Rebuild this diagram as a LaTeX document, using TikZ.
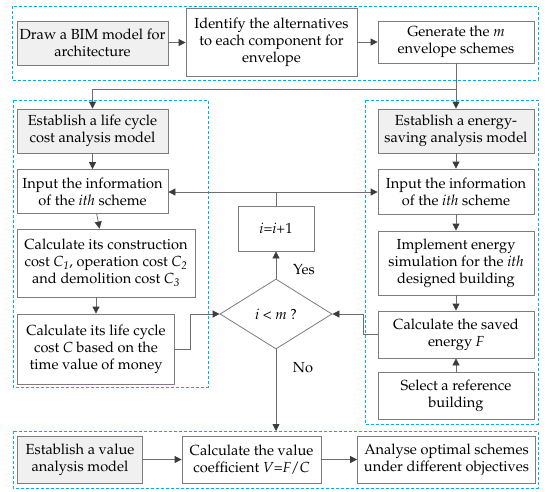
\documentclass[tikz,border=0pt]{standalone}
\usepackage[T1]{fontenc}
\usepackage{mathpazo}
\usetikzlibrary{arrows.meta,shapes.geometric}
\definecolor{dashblue}{RGB}{0,176,240}
\definecolor{boxgray}{RGB}{125,125,125}
\definecolor{fillgray}{RGB}{240,240,240}
\definecolor{linegray}{RGB}{110,110,110}
\definecolor{tipgray}{RGB}{60,60,60}
\tikzset{
  txt/.style={font=\fontsize{14.6}{17}\selectfont},
  box/.style={txt, draw=boxgray, line width=0.8pt, fill=white, align=center, inner sep=0pt},
  graybox/.style={box, fill=fillgray},
  group/.style={draw=dashblue, line width=1pt, dash pattern=on 3pt off 2pt},
  conn/.style={draw=linegray, line width=0.8pt},
  arr/.style={conn, -{Triangle[length=7pt,width=7pt,color=tipgray]}},
  lbl/.style={txt, inner sep=0pt}
}
\begin{document}
\begin{tikzpicture}[x=1pt,y=-1pt]
\useasboundingbox (0,0) rectangle (550,491);
% groups
\draw[group] (12,6) rectangle (538,80);
\draw[group] (13,100) rectangle (208,387);
\draw[group] (365,100) rectangle (538,424);
\draw[group] (13,431) rectangle (538,488);
% top
\node[graybox, minimum width=151pt, minimum height=44pt] (draw) at (92.5,43) {Draw a BIM model for\\architecture};
\node[box, minimum width=171pt, minimum height=68pt] (ident) at (271.5,42) {Identify the alternatives\\to each component for\\envelope};
\node[box, minimum width=156pt, minimum height=42pt] (gen) at (456,42) {Generate the \textit{m}\\envelope schemes};
% left
\node[graybox, minimum width=151pt, minimum height=44pt] (lcc) at (92.5,131) {Establish a life cycle\\cost analysis model};
\node[box, minimum width=151pt, minimum height=44pt] (inL) at (92.5,191.5) {Input the information\\of the \textit{ith} scheme};
\node[box, minimum width=178pt, minimum height=68pt] (calcC) at (106,263) {Calculate its construction\\cost \textit{C\textsubscript{1}}, operation cost \textit{C\textsubscript{2}}\\and demolition cost \textit{C\textsubscript{3}}};
\node[box, minimum width=157pt, minimum height=70pt] (calcL) at (96,349) {Calculate its life cycle\\cost \textit{C} based on the\\time value of money};
% right
\node[graybox, minimum width=156pt, minimum height=44pt] (esm) at (456,131) {Establish a energy-\\saving analysis model};
\node[box, minimum width=156pt, minimum height=45pt] (inR) at (456,191.5) {Input the information\\of the \textit{ith} scheme};
\node[box, minimum width=156pt, minimum height=64pt] (impl) at (456,263) {Implement energy\\simulation for the \textit{ith}\\designed building};
\node[box, minimum width=156pt, minimum height=47pt] (saved) at (456,334.5) {Calculate the saved\\energy \textit{F}};
\node[box, minimum width=156pt, minimum height=47pt] (sel) at (456,396) {Select a reference\\building};
% middle
\node[box, minimum width=76pt, minimum height=45pt] (inc) at (276,228.5) {\textit{i}=\textit{i}+1};
\node[box, diamond, minimum width=112pt, minimum height=70pt] (dia) at (276,314) {\textit{i} {<} \textit{m} ?};
% bottom
\node[graybox, minimum width=125pt, minimum height=47pt] (val) at (80,459.5) {Establish a value\\analysis model};
\node[box, minimum width=139pt, minimum height=47pt] (coef) at (251.5,459.5) {Calculate the value\\coefficient \textit{V}=\textit{F}/\textit{C}};
\node[box, minimum width=178pt, minimum height=47pt] (ana) at (446.5,459.5) {Analyse optimal schemes\\under different objectives};
% labels
\node[lbl] (yes) at (304,270) {Yes};
\node[lbl] (no) at (303,368) {No};
% coordinates
\coordinate (j1) at (456,89);
\coordinate (j2) at (276,192);
\coordinate (noend) at (276,431);
% connectors
\draw[arr] (draw) -- (ident);
\draw[arr] (ident) -- (gen);
\draw[arr] (gen) -- (esm);
\draw[arr] (j1) -| (lcc.north);
\draw[arr] (lcc) -- (inL);
\draw[arr] (inL) -- (calcC);
\draw[arr] (calcC.south -| calcL.north) -- (calcL.north);
\draw[arr] (esm) -- (inR);
\draw[arr] (inR) -- (impl);
\draw[arr] (impl) -- (saved);
\draw[arr] (sel) -- (saved);
\draw[conn] (inc.north) -- (j2);
\draw[arr] (j2) -- (inL.east |- j2);
\draw[arr] (j2) -- (inR.west |- j2);
\draw[arr] (dia.north) -- (inc.south);
\draw[arr] (calcL.east) -- ++(15.5,0) |- (dia.west);
\draw[arr] (saved.west) -- ++(-14,0) |- (dia.east);
\draw[arr] (dia.south) -- (noend);
\draw[arr] (val) -- (coef);
\draw[arr] (coef) -- (ana);
\end{tikzpicture}
\end{document}
